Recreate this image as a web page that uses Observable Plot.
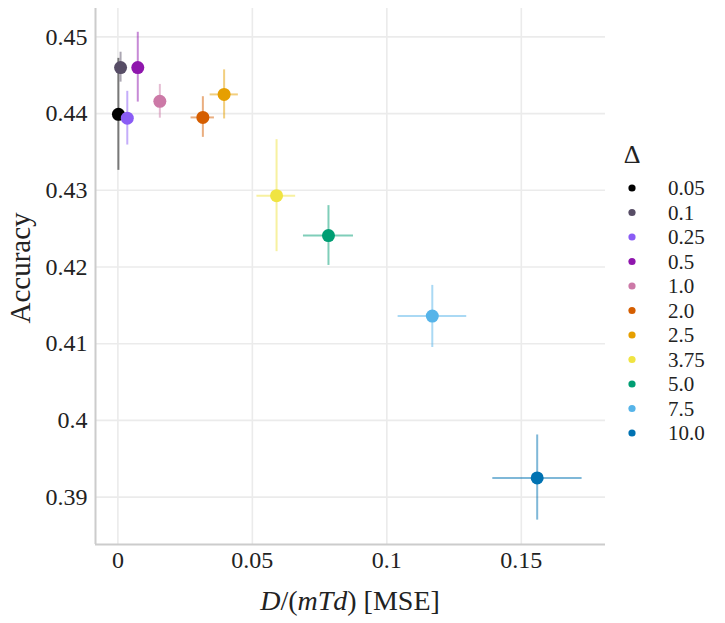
<!DOCTYPE html>
<html>
<head>
<meta charset="utf-8">
<script src="https://cdn.jsdelivr.net/npm/d3@7"></script>
<script src="https://cdn.jsdelivr.net/npm/@observablehq/plot@0.6"></script>
<style>
  html, body { margin: 0; padding: 0; background: #fff; }
  #chart { position: relative; width: 725px; height: 623px; }
</style>
</head>
<body>
<div id="chart"></div>
<script>
// ---- data ----
const deltas = ["0.05", "0.1", "0.25", "0.5", "1.0", "2.0", "2.5", "3.75", "5.0", "7.5", "10.0"];
const colors = ["#000000", "#574d66", "#8a5cf5", "#8f16ad", "#cc79a7", "#d55e00", "#e69f00", "#f0e442", "#009e73", "#56b4e9", "#0072b2"];
const mse    = [0.0002, 0.0010, 0.0035, 0.0074, 0.0156, 0.0316, 0.0395, 0.0590, 0.0783, 0.1169, 0.1559];
const mseLo  = [0.0000, 0.0007, 0.0030, 0.0068, 0.0145, 0.0272, 0.0343, 0.0517, 0.0690, 0.1042, 0.1394];
const mseHi  = [0.0004, 0.0013, 0.0040, 0.0080, 0.0167, 0.0359, 0.0448, 0.0661, 0.0876, 0.1297, 0.1726];
const acc    = [0.4399, 0.4460, 0.4394, 0.4460, 0.4416, 0.4395, 0.4425, 0.4293, 0.4241, 0.4136, 0.3925];
const accLo  = [0.4326, 0.4441, 0.4359, 0.4415, 0.4394, 0.4369, 0.4393, 0.4220, 0.4202, 0.4095, 0.3870];
const accHi  = [0.4472, 0.4480, 0.4429, 0.4506, 0.4438, 0.4422, 0.4457, 0.4366, 0.4280, 0.4176, 0.3981];
const xTicks = [0, 0.05, 0.1, 0.15];
const xTickLabels = ["0", "0.05", "0.1", "0.15"];
const yTicks = [0.39, 0.40, 0.41, 0.42, 0.43, 0.44, 0.45];
const yTickLabels = ["0.39", "0.4", "0.41", "0.42", "0.43", "0.44", "0.45"];
const xDomain = [-0.00832, 0.1813];
const yDomain = [0.38382, 0.4537];

const rows = deltas.map((d, i) => ({
  delta: d, x: mse[i], xlo: mseLo[i], xhi: mseHi[i], y: acc[i], ylo: accLo[i], yhi: accHi[i]
}));

const W = 725, H = 623, mL = 95, mR = 120, mT = 8, mB = 79;
const font = "'Liberation Serif', serif";

const plot = Plot.plot({
  width: W, height: H,
  marginLeft: mL, marginRight: mR, marginTop: mT, marginBottom: mB,
  style: { fontSize: "24px", color: "#222", background: "#fff" },
  x: { domain: xDomain, label: null },
  y: { domain: yDomain, label: null },
  color: { domain: deltas, range: colors },
  marks: [
    Plot.gridX(xTicks, { stroke: "#ebebeb", strokeOpacity: 1, strokeWidth: 1.6 }),
    Plot.gridY(yTicks, { stroke: "#ebebeb", strokeOpacity: 1, strokeWidth: 1.6 }),
    Plot.ruleX([xDomain[0]], { stroke: "#cccccc", strokeWidth: 2 }),
    Plot.ruleY([yDomain[0]], { stroke: "#cccccc", strokeWidth: 2 }),
    Plot.axisX(xTicks, { tickSize: 0, tickPadding: 6, tickFormat: (d, i) => xTickLabels[i], fontSize: 24, fill: "#222", label: null }),
    Plot.axisY(yTicks, { tickSize: 0, tickPadding: 8, tickFormat: (d, i) => yTickLabels[i], fontSize: 24, fill: "#222", label: null }),
    Plot.ruleX(rows, { x: "x", y1: "ylo", y2: "yhi", stroke: "delta", strokeOpacity: 0.5, strokeWidth: 2 }),
    Plot.ruleY(rows, { y: "y", x1: "xlo", x2: "xhi", stroke: "delta", strokeOpacity: 0.5, strokeWidth: 2 }),
    Plot.dot(rows, { x: "x", y: "y", fill: "delta", r: 6.5, stroke: "none" })
  ]
});

document.getElementById("chart").appendChild(plot);

const svg = d3.select(plot);
svg.attr("font-family", null).style("font-family", font);

// axis titles with mixed italic math
const cx = mL + (W - mL - mR) / 2;
const xl = svg.append("text")
  .attr("x", cx).attr("y", 610)
  .attr("text-anchor", "middle")
  .attr("font-size", 28).attr("fill", "#222");
[["D", true], ["/(", false], ["mTd", true], [") [MSE]", false]].forEach(([t, it]) => {
  xl.append("tspan").style("font-style", it ? "italic" : "normal").text(t);
});

const cy = mT + (H - mT - mB) / 2;
svg.append("text")
  .attr("transform", `translate(30,${cy - 8}) rotate(-90)`)
  .attr("text-anchor", "middle")
  .attr("font-size", 29).attr("fill", "#222")
  .text("Accuracy");

// legend
const lg = svg.append("g").attr("fill", "#222");
lg.append("text").attr("x", 632).attr("y", 163).attr("text-anchor", "middle")
  .attr("font-size", 26).text("Δ");
deltas.forEach((d, i) => {
  const y = 188 + i * 24.5;
  lg.append("circle").attr("cx", 632).attr("cy", y).attr("r", 3.6).attr("fill", colors[i]);
  lg.append("text").attr("x", 668).attr("y", y).attr("dy", "0.35em").attr("text-anchor", "start")
    .attr("font-size", 21).text(d);
});

// force the serif family on every text element and group
svg.selectAll("g, text, tspan").attr("font-family", null).style("font-family", font);
</script>
</body>
</html>
